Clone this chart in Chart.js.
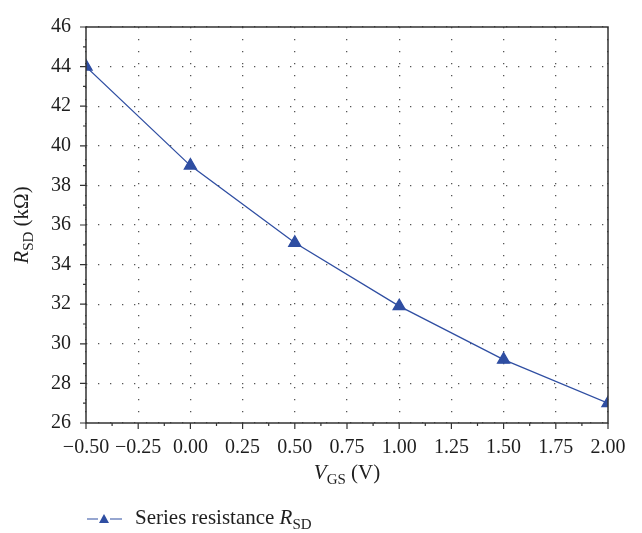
<!DOCTYPE html>
<html>
<head>
<meta charset="utf-8">
<script src="https://cdn.jsdelivr.net/npm/chart.js@4"></script>
<style>
  html, body { margin: 0; padding: 0; background: #fff; }
</style>
</head>
<body>
<canvas id="chart" width="642" height="533"></canvas>
<script>
const vgs = [-0.5, 0.0, 0.5, 1.0, 1.5, 2.0];
const rsd = [44.0, 39.0, 35.1, 31.9, 29.2, 27.0];
const xRange = [-0.5, 2.0];
const yRange = [26, 46];
const seriesName = 'Series resistance ';

const SERIF = "'Liberation Serif', 'DejaVu Serif', serif";
const BLUE = '#2f4ea2';
const INK = '#1e1e1e';

// draw a row of text pieces, some italic or subscript
function richWidth(ctx, parts) {
    let w = 0;
    parts.forEach(p => {
        ctx.font = (p.italic ? 'italic ' : '') + p.size + 'px ' + SERIF;
        w += ctx.measureText(p.text).width;
    });
    return w;
}
function drawRich(ctx, parts, x, y) {
    parts.forEach(p => {
        ctx.font = (p.italic ? 'italic ' : '') + p.size + 'px ' + SERIF;
        ctx.fillText(p.text, x, y + (p.sub ? 5 : 0));
        x += ctx.measureText(p.text).width;
    });
}

const decorations = {
    id: 'decorations',
    afterDraw(chart) {
        const { ctx, chartArea: a, scales } = chart;
        const x = scales.x, y = scales.y;
        ctx.save();
        ctx.strokeStyle = '#333';
        ctx.lineWidth = 1.5;
        ctx.strokeRect(a.left, a.top, a.right - a.left, a.bottom - a.top);

        // tick marks, major and minor
        ctx.lineWidth = 1.2;
        ctx.beginPath();
        for (let i = 0; i <= 20; i++) {
            const px = x.getPixelForValue(xRange[0] + i * 0.125);
            const len = i % 2 === 0 ? 6 : 3;
            ctx.moveTo(px, a.bottom);
            ctx.lineTo(px, a.bottom + len);
        }
        for (let v = yRange[0]; v <= yRange[1]; v++) {
            const py = y.getPixelForValue(v);
            const len = v % 2 === 0 ? 6 : 3;
            ctx.moveTo(a.left, py);
            ctx.lineTo(a.left - len, py);
        }
        ctx.stroke();

        ctx.fillStyle = INK;
        ctx.textBaseline = 'alphabetic';

        // x title
        const xt = [
            { text: 'V', italic: true, size: 21 },
            { text: 'GS', size: 15, sub: true },
            { text: ' (V)', size: 21 }
        ];
        const cx = (a.left + a.right) / 2;
        drawRich(ctx, xt, cx - richWidth(ctx, xt) / 2, 479);

        // y title
        const yt = [
            { text: 'R', italic: true, size: 21 },
            { text: 'SD', size: 15, sub: true },
            { text: ' (k\u03A9)', size: 21 }
        ];
        ctx.save();
        ctx.translate(28, (a.top + a.bottom) / 2);
        ctx.rotate(-Math.PI / 2);
        drawRich(ctx, yt, -richWidth(ctx, yt) / 2, 0);
        ctx.restore();

        // legend
        const ly = 519;
        ctx.strokeStyle = BLUE;
        ctx.lineWidth = 1.2;
        ctx.beginPath();
        ctx.moveTo(87, ly);
        ctx.lineTo(98, ly);
        ctx.moveTo(110, ly);
        ctx.lineTo(122, ly);
        ctx.stroke();
        ctx.fillStyle = BLUE;
        ctx.beginPath();
        ctx.moveTo(104, ly - 5);
        ctx.lineTo(109, ly + 4);
        ctx.lineTo(99, ly + 4);
        ctx.closePath();
        ctx.fill();
        ctx.fillStyle = INK;
        drawRich(ctx, [
            { text: seriesName, size: 21 },
            { text: 'R', italic: true, size: 21 },
            { text: 'SD', size: 15, sub: true }
        ], 135, ly + 5);
        ctx.restore();
    }
};

const tickFont = { family: SERIF, size: 20 };
const gridStyle = {
    color: '#555',
    lineWidth: 1.3,
    drawTicks: false
};
const noBorder = { display: false, dash: [1.3, 10.7] };

new Chart(document.getElementById('chart'), {
    type: 'line',
    data: {
        labels: vgs,
        datasets: [{
            data: vgs.map((v, i) => ({ x: v, y: rsd[i] })),
            borderColor: BLUE,
            backgroundColor: BLUE,
            borderWidth: 1.3,
            pointStyle: 'triangle',
            pointRadius: 7,
            pointHoverRadius: 7,
            tension: 0,
            clip: 0
        }]
    },
    options: {
        responsive: false,
        animation: false,
        devicePixelRatio: 1,
        layout: { padding: { top: 14, right: 34, left: 0, bottom: 0 } },
        plugins: { legend: { display: false }, tooltip: { enabled: false } },
        scales: {
            x: {
                type: 'linear',
                min: xRange[0],
                max: xRange[1],
                grid: gridStyle,
                border: noBorder,
                ticks: {
                    stepSize: 0.25,
                    font: tickFont,
                    color: INK,
                    padding: 13,
                    maxRotation: 0,
                    callback: v => (v < -1e-9 ? '\u2212' : '') + Math.abs(v).toFixed(2)
                },
                afterFit: s => { s.height = 110; }
            },
            y: {
                min: yRange[0],
                max: yRange[1],
                grid: gridStyle,
                border: noBorder,
                ticks: {
                    stepSize: 2,
                    font: tickFont,
                    color: INK,
                    padding: 15
                },
                afterFit: s => { s.width = 86; }
            }
        }
    },
    plugins: [decorations]
});
</script>
</body>
</html>
